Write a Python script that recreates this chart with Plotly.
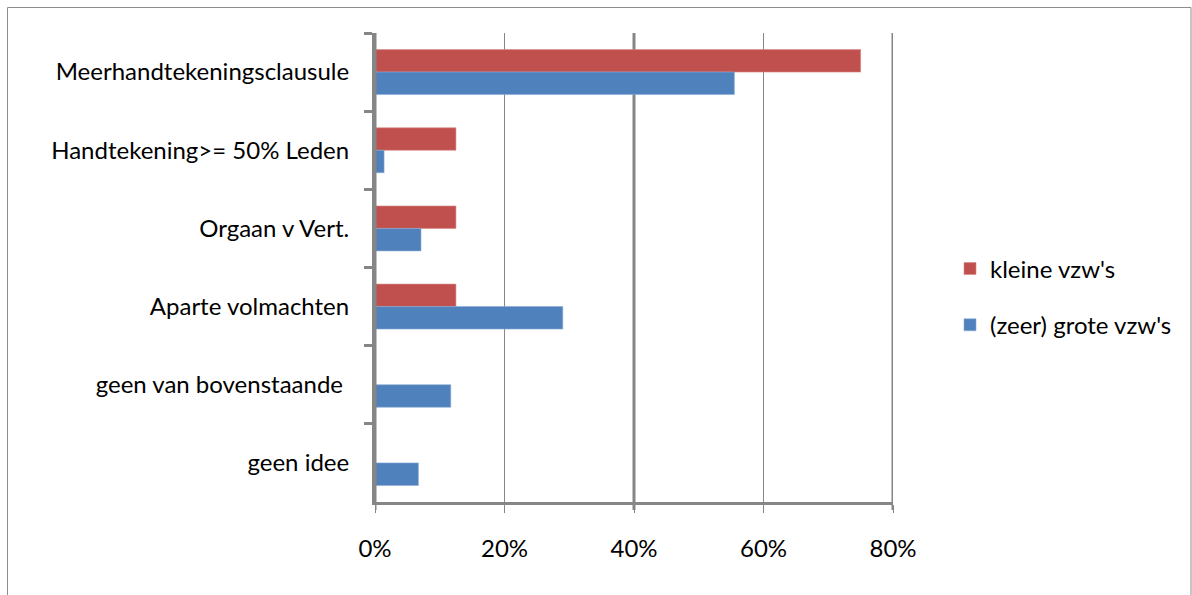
import plotly.graph_objects as go

# Categories (top to bottom) and shares per organisation size
categories = [
    "Meerhandtekeningsclausule",
    "Handtekening>= 50% Leden",
    "Orgaan v Vert.",
    "Aparte volmachten",
    "geen van bovenstaande ",
    "geen idee",
]
kleine_vzws = [0.75, 0.125, 0.125, 0.125, None, None]
grote_vzws = [0.555, 0.014, 0.071, 0.29, 0.117, 0.067]

x_ticks = [0, 0.2, 0.4, 0.6, 0.8]
x_tick_labels = ["0%", "20%", "40%", "60%", "80%"]

RED = "#C0504D"
BLUE = "#4F81BD"
AXIS = "#868686"
FONT = "Lato"

W, H = 1192, 595
L, R, T, B = 375, 299, 33, 93
plot_w = W - L - R
plot_h = H - T - B

fig = go.Figure()
fig.add_trace(go.Bar(
    y=categories, x=kleine_vzws, orientation="h", name="kleine vzw's",
    marker=dict(color=RED, line=dict(color="#D98A88", width=0.6)),
    legendgroup="a",
))
fig.add_trace(go.Bar(
    y=categories, x=grote_vzws, orientation="h", name="(zeer) grote vzw's",
    marker=dict(color=BLUE, line=dict(color="#8AAAD4", width=0.6)),
    legendgroup="b",
))

tick_px = 8 / plot_h
shapes = []
# heavier vertical rules at 0%, 40% and 80%
for v in (0, 0.4, 0.8):
    shapes.append(dict(type="line", xref="x", yref="paper", x0=v, x1=v,
                       y0=-tick_px, y1=1, line=dict(color=AXIS, width=3),
                       layer="above" if v == 0 else "below"))
# outer chart border
shapes.append(dict(type="rect", xref="paper", yref="paper",
                   x0=(7.5 - L) / plot_w, x1=(1191 - L) / plot_w,
                   y0=(H - 600 - B) / plot_h, y1=(H - 7.5 - B) / plot_h,
                   line=dict(color="#8C8C8C", width=1), layer="below"))

fig.update_layout(
    width=W, height=H,
    margin=dict(l=L, r=R, t=T, b=B, autoexpand=False),
    paper_bgcolor="white", plot_bgcolor="white",
    barmode="group", bargap=0.425, bargroupgap=0,
    font=dict(family=FONT, size=24, color="black"),
    shapes=shapes,
    legend=dict(
        x=(950 - L) / plot_w, xanchor="left",
        y=(H - B - 297) / plot_h, yanchor="middle",
        font=dict(family=FONT, size=24, color="black"),
        tracegroupgap=22, traceorder="grouped",
        bgcolor="rgba(0,0,0,0)",
    ),
    xaxis=dict(
        range=[0, 0.8], tickvals=x_ticks, ticktext=x_tick_labels,
        showgrid=True, gridcolor=AXIS, gridwidth=1, zeroline=False,
        showline=True, linecolor=AXIS, linewidth=3,
        ticks="outside", ticklen=8, tickwidth=1, tickcolor=AXIS,
        ticklabelstandoff=15,
        tickfont=dict(family=FONT, size=24, color="black"),
    ),
    yaxis=dict(
        categoryorder="array", categoryarray=categories,
        autorange="reversed",
        showline=True, linecolor=AXIS, linewidth=3,
        ticks="outside", ticklen=8, tickwidth=3, tickcolor=AXIS,
        tickson="boundaries", showgrid=False,
        ticklabelstandoff=18,
        tickfont=dict(family=FONT, size=24, color="black"),
    ),
)

fig.write_html("out.html")
